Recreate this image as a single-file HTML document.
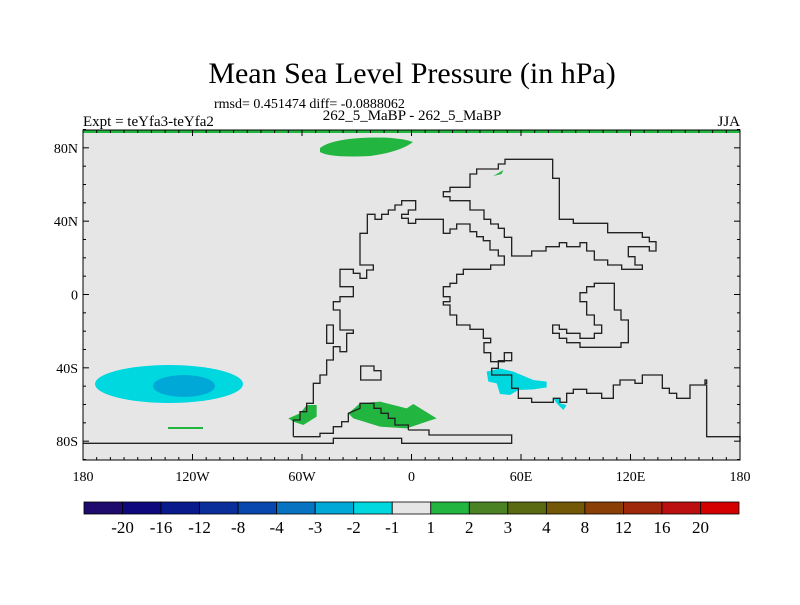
<!DOCTYPE html>
<html><head><meta charset="utf-8"><style>
body{margin:0;background:#fff;}
svg text{font-family:"Liberation Serif",serif;fill:#000;}
</style></head><body>
<svg id="chart" width="800" height="600" viewBox="0 0 800 600">
<text x="412" y="83" font-size="30" text-anchor="middle">Mean Sea Level Pressure (in hPa)</text>
<text x="214" y="108" font-size="14">rmsd= 0.451474 diff= -0.0888062</text>
<text x="83" y="126" font-size="15">Expt = teYfa3-teYfa2</text>
<text x="412" y="120" font-size="15" text-anchor="middle">262_5_MaBP - 262_5_MaBP</text>
<text x="740" y="126" font-size="15" text-anchor="end">JJA</text>
<g>
<rect x="83" y="130" width="657" height="330" fill="#e6e6e6"/>
<rect x="83" y="130" width="657" height="3" fill="#22b540"/>
<path d="M320,148 Q330,140 360,138 Q395,136 413,142 Q400,152 370,156 Q330,158 320,152Z" fill="#22b540"/>
<ellipse cx="169" cy="384" rx="74" ry="19" fill="#00d8e0"/>
<ellipse cx="184" cy="386" rx="31" ry="11" fill="#00a8d8"/>
<rect x="168" y="427" width="35" height="2" fill="#22b540"/>
<g transform="translate(280,150) scale(0.33333)">
<path d="M205,790 L240,760 L300,755 L380,775 L400,762 L470,805 L440,815 L380,835 L300,830 L220,805Z" fill="#22b540"/>
<path d="M25,805 L60,790 L80,765 L110,765 L110,800 L70,825 L40,815Z" fill="#22b540"/>
<path d="M620,665 L660,655 L700,665 L760,690 L800,695 L800,712 L760,718 L715,720 L690,735 L660,732 L650,700 L625,695Z" fill="#00d8e0"/>
<path d="M820,745 L840,745 L840,760 L860,765 L850,780 L830,760Z" fill="#00d8e0"/>
<path d="M640,78 L670,60 L665,72Z" fill="#22b540"/>
<g fill="none" stroke="#222" stroke-width="4">
<path d="M40,860 L40,810 L60,810 L60,785 L80,785 L80,760 L100,760 L100,700 L120,700 L120,675 L140,675 L140,630 L160,630 L160,590 L180,590 L180,605 L200,605 L200,550 L220,550 L220,540 L180,540 L180,480 L160,480 L160,455 L180,455 L180,440 L220,440 L220,410 L180,410 L180,358 L220,358 L220,370 L240,370 L240,385 L260,385 L260,360 L280,360 L280,345 L240,345 L240,250 L262,250 L262,193 L285,193 L285,208 L305,208 L305,193 L325,193 L325,180 L345,180 L345,165 L365,165 L365,152 L407,152 L407,180 L385,180 L385,193 L365,193 L365,205 L385,205 L385,220 L407,220 L407,208 L490,208 L490,250 L510,250 L510,237 L530,237 L530,222 L570,222 L570,245 L590,245 L590,260 L610,260 L610,272 L630,272 L630,300 L655,300 L655,318 L673,318 L673,345 L632,345 L632,358 L550,358 L550,373 L530,373 L530,400 L510,400 L510,410 L490,410 L490,440 L510,440 L510,455 L490,455 L490,465 L510,465 L510,495 L530,495 L530,525 L570,525 L570,538 L610,538 L610,565 L632,565 L632,578 L612,578 L612,608 L632,608 L632,635 L673,635 L673,608 L695,608 L695,632 L655,632 L655,655 L635,655 L635,675 L695,675 L695,715 L715,715 L715,745 L755,745 L755,757 L820,757 L820,745 L840,745 L840,757 L860,757 L860,730 L880,730 L880,718 L920,718 L920,730 L965,730 L965,745 L1000,745 L1000,705 L1020,705 L1020,690 L1065,690 L1065,700 L1087,700 L1087,675 L1147,675 L1147,715 L1168,715 L1168,730 L1190,730 L1190,745 L1230,745 L1230,705 L1275,705 L1275,700 L1280,700 L1280,690 L1275,690 L1275,705 L1280,705 L1280,860 L1380,860 L1380,875"/>
<path d="M490,125 L510,125 L510,112 L570,112 L570,72 L590,72 L590,57 L655,57 L655,42 L675,42 L675,28 L818,28 L818,85 L838,85 L838,208 L880,208 L880,220 L983,220 L983,248 L1087,248 L1087,262 L1108,262 L1108,275 L1128,275 L1128,303 L1108,303 L1108,290 L1045,290 L1045,320 L1065,320 L1065,345 L1087,345 L1087,358 L1025,358 L1025,345 L983,345 L983,330 L943,330 L943,303 L920,303 L920,278 L900,278 L900,290 L860,290 L860,278 L838,278 L838,290 L798,290 L798,303 L755,303 L755,318 L695,318 L695,262 L673,262 L673,235 L655,235 L655,222 L632,222 L632,208 L612,208 L612,180 L570,180 L570,152 L510,152 L510,140 L490,140 Z"/>
<path d="M900,428 L920,428 L920,410 L943,410 L943,400 L1003,400 L1003,480 L1023,480 L1023,510 L1045,510 L1045,578 L1023,578 L1023,592 L900,592 L900,578 L860,578 L860,565 L838,565 L838,550 L818,550 L818,525 L838,525 L838,538 L860,538 L860,550 L900,550 L900,565 L943,565 L943,550 L965,550 L965,525 L943,525 L943,495 L920,495 L920,455 L900,455 Z"/>
<path d="M140,525 L160,525 L160,580 L140,580 Z"/>
<path d="M242,648 L282,648 L282,662 L303,662 L303,690 L242,690 Z"/>
<path d="M-591,880 L160,880 L160,865 L365,865 L365,880 L695,880 L695,855 L447,855 L447,840 L385,840"/>
<path d="M40,860 L120,860 L120,850 L160,850 L160,830 L185,830 L185,815 L205,815 L205,790 L240,775 L240,760 L282,760 L282,775 L303,775 L303,790 L325,790 L325,805 L345,805 L345,825 L385,825 L385,840"/>
</g>
</g>
<rect x="83" y="130" width="657" height="330" fill="none" stroke="#000" stroke-width="1"/>
<g id="ticks" stroke="#000" stroke-width="1"></g>
<g id="labels" font-size="14"></g>
</g>
<g id="colorbar"></g>
</svg>
<script>
const latTicks=[80,40,0,-40,-80];
const latLabels=["80N","40N","0","40S","80S"];
const lonTicks=[-180,-120,-60,0,60,120,180];
const lonLabels=["180","120W","60W","0","60E","120E","180"];
const cbColors=["#1f0a6e","#0e0a7e","#081a8c","#0a2e9a","#0848ae","#0873c0","#00a8d8","#00d8e0","#e6e6e6","#22b540","#4a8224","#5a6a12","#735808","#8a3f06","#a0280a","#bc1010","#d40000"];
const cbLabels=["-20","-16","-12","-8","-4","-3","-2","-1","1","2","3","4","8","12","16","20"];
const NS="http://www.w3.org/2000/svg";
const x=lon=>83+(lon+180)*657/360;
const y=lat=>294.5-lat*330/180;
function mk(tag,attrs,parent){const e=document.createElementNS(NS,tag);for(const k in attrs)e.setAttribute(k,attrs[k]);parent.appendChild(e);return e;}
const tg=document.getElementById('ticks'),lg=document.getElementById('labels');
for(let lon=-180;lon<=180;lon+=7.5){const maj=lon%60===0;const L=maj?6:3;
 let t=mk('line',{x1:x(lon),x2:x(lon),y1:130,y2:130+L},tg);
 
 
 t=mk('line',{x1:x(lon),x2:x(lon),y1:460,y2:460-L},tg);
 
 }
for(let lat=-90;lat<=90;lat+=10){const maj=lat%40===0;const L=maj?6:3;
 let t=mk('line',{x1:83,x2:83+L,y1:y(lat),y2:y(lat)},tg);
 
 
 t=mk('line',{x1:740,x2:740-L,y1:y(lat),y2:y(lat)},tg);
 
 }
latTicks.forEach((v,i)=>{const t=mk('text',{x:78,y:y(v)+5,'text-anchor':'end'},lg);t.textContent=latLabels[i];
 
 });
lonTicks.forEach((v,i)=>{const t=mk('text',{x:x(v),y:481,'text-anchor':'middle'},lg);t.textContent=lonLabels[i];
 
 });
const cb=document.getElementById('colorbar');const w=(739-84)/cbColors.length;
cbColors.forEach((c,i)=>{const r=mk('rect',{x:84+i*w,y:502,width:w,height:12,fill:c,stroke:'#000','stroke-width':0.8},cb);
 
 });
cbLabels.forEach((s,i)=>{const t=mk('text',{x:84+(i+1)*w,y:533,'text-anchor':'middle','font-size':17},cb);t.textContent=s;
 
 });
</script>
</body></html>
